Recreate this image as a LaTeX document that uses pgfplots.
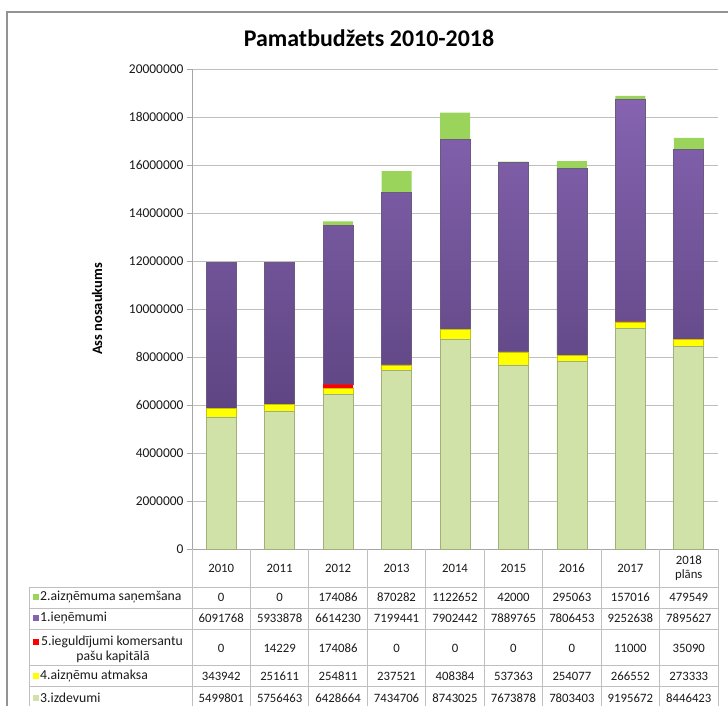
\documentclass[border=0pt]{standalone}
\usepackage{fontspec}
\setmainfont{Carlito}
\usepackage{pgfplots}
\pgfplotsset{compat=1.18}
\usepackage{pgfplotstable}

\definecolor{izdC}{HTML}{D1E2A9}
\definecolor{izdB}{HTML}{9FB07A}
\definecolor{atmC}{HTML}{FFFF00}
\definecolor{atmB}{HTML}{C9C400}
\definecolor{iegC}{HTML}{FF0000}
\definecolor{ienT}{HTML}{8563B0}
\definecolor{ienB}{HTML}{5E4582}
\definecolor{ienE}{HTML}{6A5A80}
\definecolor{sanC}{HTML}{9AD45A}
\definecolor{sanB}{HTML}{7DAF45}
\definecolor{gridC}{HTML}{BFBFBF}
\definecolor{lineC}{HTML}{A6A6A6}
\definecolor{txtC}{HTML}{1A1A1A}

\pgfplotstableread{
x izd atm ieg ien san
0 5499801 343942 0 6091768 0
1 5756463 251611 14229 5933878 0
2 6428664 254811 174086 6614230 174086
3 7434706 237521 0 7199441 870282
4 8743025 408384 0 7902442 1122652
5 7673878 537363 0 7889765 42000
6 7803403 254077 0 7806453 295063
7 9195672 266552 11000 9252638 157016
8 8446423 273333 35090 7895627 479549
}\data

\begin{document}
\begin{tikzpicture}[x=1bp,y=1bp]
\useasboundingbox (0,0) rectangle (728,706);
\draw[gray!85, line width=1.3bp] (7,-10) -- (7,694) -- (740,694);
\node[font=\bfseries\fontsize{24}{27}\selectfont, text=black] at (369,668) {Pamatbudžets 2010-2018};
\node[font=\bfseries\fontsize{14.5}{16}\selectfont, rotate=90, text=black] at (97,397) {Ass nosaukums};

\begin{axis}[
  at={(192bp,157bp)}, anchor=south west,
  scale only axis, width=526bp, height=480bp,
  xmin=-0.5, xmax=8.5, ymin=0, ymax=20000000,
  ytick={0,2000000,4000000,6000000,8000000,10000000,12000000,14000000,16000000,18000000,20000000},
  xtick=\empty,
  ymajorgrids, grid style={gridC, line width=0.8bp},
  axis x line*=bottom, axis y line*=left,
  axis line style={lineC, line width=0.8bp},
  tick style={lineC, line width=0.8bp},
  major tick length=5bp, tick align=outside,
  scaled y ticks=false,
  /pgf/number format/assume math mode=true,
  yticklabel style={/pgf/number format/fixed, /pgf/number format/1000 sep={}, font=\fontsize{13.5}{15}\selectfont, text=txtC},
  ybar stacked, bar width=30bp,
  clip=false,
]
\addplot[fill=izdC, draw=izdB, line width=0.6bp] table[x=x,y=izd]{\data};
\addplot[fill=atmC, draw=atmB, line width=0.6bp] table[x=x,y=atm]{\data};
\addplot[fill=iegC, draw=none] table[x=x,y=ieg]{\data};
\addplot[top color=ienT, bottom color=ienB, draw=ienE, line width=0.6bp] table[x=x,y=ien]{\data};
\addplot[fill=sanC, draw=none] table[x=x,y=san]{\data};
\end{axis}

% data table grid
\foreach \yy in {119,98,77,41,20} \draw[gridC, line width=0.8bp] (29,\yy) -- (718,\yy);
\draw[gridC, line width=0.8bp] (29,119) -- (29,-5);
\foreach \i in {0,...,9} \draw[gridC, line width=0.8bp] ({192+58.444*\i},157) -- ({192+58.444*\i},-5);

\begin{scope}[every node/.style={font=\fontsize{12.8}{14}\selectfont, text=txtC, inner sep=0.5bp}]
\foreach \v [count=\i from 0] in {2010,2011,2012,2013,2014,2015,2016,2017}
  \node at ({192+58.444*(\i+0.5)},138) {\v};
\node[align=center, font=\fontsize{12.8}{14}\selectfont] at ({192+58.444*8.5},138) {2018\\plāns};

\foreach \v [count=\i from 0] in {0,0,174086,870282,1122652,42000,295063,157016,479549}
  \node at ({192+58.444*(\i+0.5)},109) {\v};
\foreach \v [count=\i from 0] in {6091768,5933878,6614230,7199441,7902442,7889765,7806453,9252638,7895627}
  \node at ({192+58.444*(\i+0.5)},88) {\v};
\foreach \v [count=\i from 0] in {0,14229,174086,0,0,0,0,11000,35090}
  \node at ({192+58.444*(\i+0.5)},58) {\v};
\foreach \v [count=\i from 0] in {343942,251611,254811,237521,408384,537363,254077,266552,273333}
  \node at ({192+58.444*(\i+0.5)},30) {\v};
\foreach \v [count=\i from 0] in {5499801,5756463,6428664,7434706,8743025,7673878,7803403,9195672,8446423}
  \node at ({192+58.444*(\i+0.5)},8) {\v};
\end{scope}

\begin{scope}[every node/.style={font=\fontsize{13.8}{15}\selectfont, text=txtC, inner sep=0.5bp}]
\fill[sanC] (33,106) rectangle (39,112);
\node[anchor=west] at (39.5,109) {2.aizņēmuma saņemšana};
\fill[ienT] (33,85) rectangle (39,91);
\node[anchor=west] at (39.5,88) {1.ieņēmumi};
\fill[iegC] (33,61) rectangle (39,67);
\node at (112,64) {5.ieguldījumi komersantu};
\node at (113,49) {pašu kapitālā};
\fill[atmC] (33,27) rectangle (39,33);
\node[anchor=west] at (39.5,30) {4.aizņēmu atmaksa};
\fill[izdC] (33,5) rectangle (39,11);
\node[anchor=west] at (39.5,8) {3.izdevumi};
\end{scope}
\end{tikzpicture}
\end{document}
